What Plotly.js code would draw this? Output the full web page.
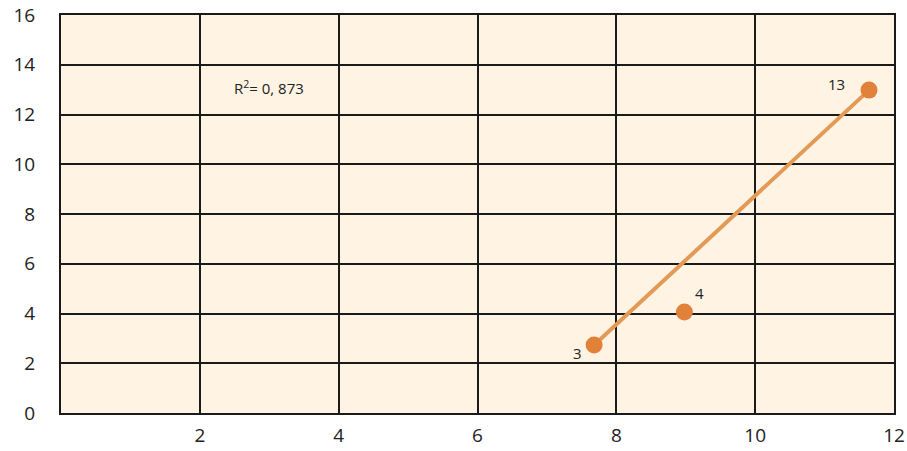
<!DOCTYPE html>
<html>
<head>
<meta charset="utf-8">
<script src="https://cdn.plot.ly/plotly-3.0.1.min.js"></script>
<style>
  html, body { margin: 0; padding: 0; background: #fff; }
  #plot { width: 907px; height: 451px; }
</style>
</head>
<body>
<div id="plot"></div>
<script>
// Values
var pointsX = [7.68, 8.98, 11.64];
var pointsY = [2.73, 4.06, 12.98];
var pointLabels = ['3', '4', '13'];
var trendX = [7.68, 11.64];
var trendY = [2.73, 12.98];
var xTicks = [2, 4, 6, 8, 10, 12];
var yTicks = [0, 2, 4, 6, 8, 10, 12, 14, 16];
var r2Text = 'R<sup>2</sup>= 0, 873';

// pixel offsets of the point labels from their points
var labelShiftX = [-17, 15, -33];
var labelShiftY = [-8, 19, 6];

var tickFont = { family: 'Open Sans, sans-serif', size: 19, color: '#222' };
var labelFont = { family: 'Open Sans, sans-serif', size: 15, color: '#222' };

var trend = {
    x: trendX, y: trendY,
    type: 'scatter', mode: 'lines',
    line: { color: '#e29a56', width: 4 },
    hoverinfo: 'skip'
};

var points = {
    x: pointsX, y: pointsY,
    type: 'scatter', mode: 'markers',
    marker: { color: '#e2823a', size: 17 }
};

var annotations = pointLabels.map(function (t, i) {
    return {
        x: pointsX[i], y: pointsY[i], text: t, showarrow: false,
        xshift: labelShiftX[i], yshift: labelShiftY[i], font: labelFont
    };
});
annotations.push({
    x: 2.46, y: 13.1, xanchor: 'left', yanchor: 'middle',
    text: r2Text, showarrow: false, font: labelFont
});

var layout = {
    width: 907, height: 451,
    margin: { l: 61, r: 13, t: 15, b: 38 },
    paper_bgcolor: '#ffffff',
    plot_bgcolor: '#fff4e3',
    showlegend: false,
    xaxis: {
        range: [0, 12],
        tickvals: xTicks,
        ticks: '',
        tickfont: tickFont,
        ticklabelstandoff: 4,
        showgrid: true, gridcolor: '#1a1a1a', gridwidth: 2,
        showline: true, linecolor: '#1a1a1a', linewidth: 2, mirror: true,
        zeroline: false
    },
    yaxis: {
        range: [0, 16],
        tickvals: yTicks,
        ticks: '',
        tickfont: tickFont,
        ticklabelstandoff: 20,
        showgrid: true, gridcolor: '#1a1a1a', gridwidth: 2,
        showline: true, linecolor: '#1a1a1a', linewidth: 2, mirror: true,
        zeroline: false
    },
    annotations: annotations
};

Plotly.newPlot('plot', [trend, points], layout, { displayModeBar: false, staticPlot: true });
</script>
</body>
</html>
